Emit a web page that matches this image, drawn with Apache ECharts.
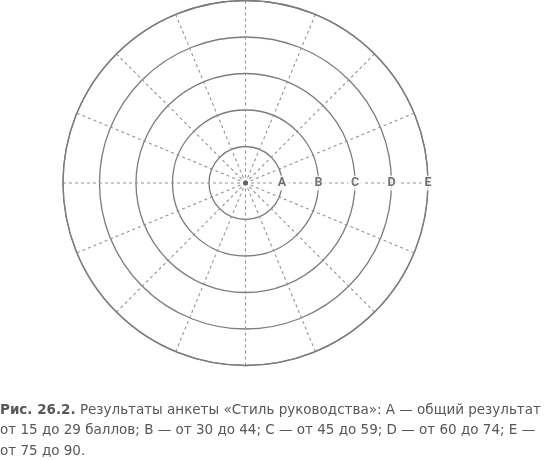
<!DOCTYPE html>
<html>
<head>
<meta charset="utf-8">
<script src="https://cdn.jsdelivr.net/npm/echarts@6/dist/echarts.min.js"></script>
<style>
	html, body { margin : 0; padding : 0; background : #fff; }
	#styleChart { width : 545px; height : 460px; }
</style>
</head>
<body>
<div id="styleChart"></div>
<script>
"use strict";
var lineColor = '#7c7c7c';
var textColor = '#575757';

// ring labels, one per circle, counted from the centre
var ringNames = [ 'A', 'B', 'C', 'D', 'E' ];
var ringValues = [ 1, 2, 3, 4, 5 ];
// 16 dashed spokes
var spokeStep = 22.5;

var captionLines = [
	'{b|Рис. 26.2.} Результаты анкеты «Стиль руководства»: А — общий результат',
	'от 15 до 29 баллов; В — от 30 до 44; С — от 45 до 59; D — от 60 до 74; Е —',
	'от 75 до 90.'
];

function styleChart() {
	var chart = echarts.init(document.getElementById('styleChart'));

	var labelData = ringNames.map(function(name, i) {
		return {
			name : name,
			value : [ ringValues[i], 0 ]
		};
	});

	chart.setOption({
		animation : false,
		title : {
			text : captionLines.join('\n'),
			left : 0,
			top : 400,
			padding : 0,
			textStyle : {
				fontFamily : 'DejaVu Sans',
				fontSize : 13.5,
				fontWeight : 'normal',
				color : textColor,
				lineHeight : 20.5,
				rich : {
					b : {
						fontFamily : 'DejaVu Sans',
						fontSize : 13.5,
						fontWeight : 'bold',
						color : textColor,
						lineHeight : 20.5
					}
				}
			}
		},
		polar : {
			center : [ 245.5, 183 ],
			radius : 182.5
		},
		angleAxis : {
			type : 'value',
			min : 0,
			max : 360,
			interval : spokeStep,
			startAngle : 0,
			axisLine : {
				lineStyle : {
					color : lineColor,
					width : 1.3
				}
			},
			axisTick : {
				show : false
			},
			axisLabel : {
				show : false
			},
			splitLine : {
				lineStyle : {
					color : '#939393',
					width : 1.1,
					type : [ 3, 3 ]
				}
			}
		},
		radiusAxis : {
			type : 'value',
			min : 0,
			max : 5,
			interval : 1,
			axisLine : {
				show : false
			},
			axisTick : {
				show : false
			},
			axisLabel : {
				show : false
			},
			splitLine : {
				lineStyle : {
					color : lineColor,
					width : 1.3
				}
			}
		},
		series : [ {
			// dot in the middle
			type : 'scatter',
			coordinateSystem : 'polar',
			symbolSize : 5,
			itemStyle : {
				color : '#555'
			},
			data : [ [ 0, 0 ] ],
			silent : true
		}, {
			type : 'scatter',
			coordinateSystem : 'polar',
			symbolSize : 0,
			data : labelData,
			silent : true,
			label : {
				show : true,
				position : 'inside',
				formatter : '{b}',
				fontFamily : 'Roboto',
				fontWeight : 'bold',
				fontSize : 12.5,
				color : '#505050',
				backgroundColor : '#fff',
				padding : [ 1, 3 ]
			}
		} ]
	});
}

styleChart();
</script>
</body>
</html>
